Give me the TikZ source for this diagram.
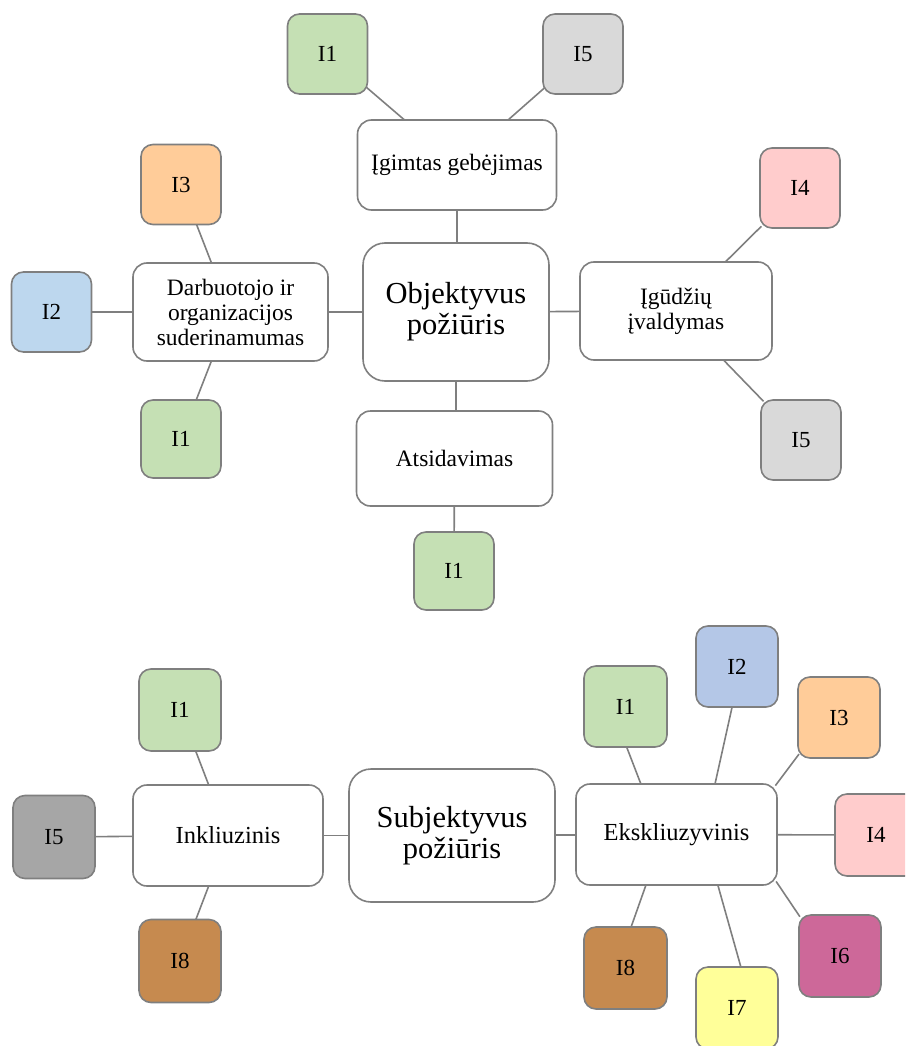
\documentclass[tikz,border=0pt]{standalone}
\usepackage{fontspec}
\setmainfont{Liberation Serif}
\pgfdeclarelayer{bg}
\pgfsetlayers{bg,main}
\definecolor{edgegray}{HTML}{7F7F7F}
\definecolor{cgreen}{HTML}{C5E0B4}
\definecolor{clgray}{HTML}{D9D9D9}
\definecolor{cdgray}{HTML}{A6A6A6}
\definecolor{corange}{HTML}{FFCC99}
\definecolor{cblue}{HTML}{BDD7EE}
\definecolor{cblueb}{HTML}{B4C7E7}
\definecolor{cpink}{HTML}{FFCCCC}
\definecolor{cbrown}{HTML}{C68A4F}
\definecolor{cmagenta}{HTML}{CD6899}
\definecolor{cyellow}{HTML}{FFFF99}
\tikzset{
  box/.style={draw=edgegray, line width=1.6pt, fill=white, rounded corners=14pt,
    inner sep=0pt, align=center, font=\fontsize{23.5}{25}\selectfont},
  hub/.style={box, rounded corners=22pt, font=\fontsize{30.5}{31}\selectfont},
  tag/.style={draw=edgegray, line width=1.6pt, fill=#1, rounded corners=12pt,
    inner sep=0pt, minimum width=80pt, minimum height=80pt,
    font=\fontsize{23}{25}\selectfont},
  link/.style={draw=edgegray, line width=1.6pt, shorten <=-3pt, shorten >=-3pt},
}
\begin{document}
\begin{tikzpicture}[x=1pt,y=-1pt]
\clip (0,0) rectangle (905,1046);

% ---- objective approach ----
\node[hub, minimum width=186pt, minimum height=138pt] (o) at (456,312) {Objektyvus\\požiūris};
\node[box, minimum width=199pt, minimum height=90pt] (ig) at (457,165) {Įgimtas gebėjimas};
\node[tag=cgreen] (t1) at (327.5,54) {I1};
\node[tag=clgray] (t5) at (583,54) {I5};
\node[box, minimum width=192pt, minimum height=98pt] (ud) at (676,311) {Įgūdžių\\įvaldymas};
\node[tag=cpink] (u4) at (800,188) {I4};
\node[tag=clgray] (u5) at (801,440) {I5};
\node[box, minimum width=196pt, minimum height=95pt] (at) at (454.5,458.5) {Atsidavimas};
\node[tag=cgreen, minimum height=78pt] (a1) at (454,571) {I1};
\node[box, minimum width=195pt, minimum height=98pt] (db) at (230.5,312) {Darbuotojo ir\\organizacijos\\suderinamumas};
\node[tag=corange] (d3) at (181,184.5) {I3};
\node[tag=cblue] (d2) at (51.5,312) {I2};
\node[tag=cgreen, minimum height=78pt] (d1) at (181,439) {I1};

% ---- subjective approach ----
\node[hub, minimum width=206pt, minimum height=133pt] (s) at (452,835.5) {Subjektyvus\\požiūris};
\node[box, minimum width=190pt, minimum height=101pt, font=\fontsize{24.5}{26}\selectfont] (in) at (228,835.5) {Inkliuzinis};
\node[tag=cgreen, minimum width=82pt, minimum height=82pt] (n1) at (180,710) {I1};
\node[tag=cdgray, minimum width=82pt, minimum height=83pt] (n5) at (54,837) {I5};
\node[tag=cbrown, minimum width=82pt, minimum height=83pt] (n8) at (180,961) {I8};
\node[box, minimum width=201pt, minimum height=101pt, font=\fontsize{24.5}{26}\selectfont] (ek) at (676.5,834.5) {Ekskliuzyvinis};
\node[tag=cgreen, minimum width=83pt, minimum height=81pt] (e1) at (625.5,706.5) {I1};
\node[tag=cblueb, minimum width=82pt, minimum height=81pt] (e2) at (737,666.5) {I2};
\node[tag=corange, minimum width=82pt, minimum height=81pt] (e3) at (839,717.5) {I3};
\node[tag=cpink, minimum width=82pt, minimum height=82pt] (e4) at (876,835) {I4};
\node[tag=cmagenta, minimum width=82pt, minimum height=82pt] (e6) at (840,956) {I6};
\node[tag=cyellow, minimum width=82pt, minimum height=82pt] (e7) at (737,1008) {I7};
\node[tag=cbrown, minimum width=83pt, minimum height=82pt] (e8) at (625.5,968) {I8};

% ---- connectors (behind the boxes) ----
\begin{pgfonlayer}{bg}
\draw[link] (t1) -- (ig);
\draw[link] (t5) -- (ig);
\draw[link] (ig.south) -- (ig.south |- o.north);
\draw[link] (o) -- (db);
\draw[link] (o) -- (ud);
\draw[link] (o.south) -- (o.south |- at.north);
\draw[link] (at) -- (a1);
\draw[link] (ud) -- (u4);
\draw[link] (ud) -- (u5);
\draw[link] (db) -- (d3);
\draw[link] (db) -- (d2);
\draw[link] (db) -- (d1);

\draw[link] (s) -- (in);
\draw[link] (in) -- (n1);
\draw[link] (in) -- (n5);
\draw[link] (in) -- (n8);
\draw[link] (s) -- (ek);
\draw[link] (ek) -- (e4);
\draw[link] (ek.125.3) -- (e1.272);
\draw[link] (ek.53.4) -- (e2.263.1);
\draw[link] (ek.27.4) -- (e3.223.8);
\draw[link] (ek.-26.2) -- (e6.135.7);
\draw[link] (ek.-51.8) -- (e7.85.8);
\draw[link] (ek.239.4) -- (e8.82.4);
\end{pgfonlayer}
\end{tikzpicture}
\end{document}
